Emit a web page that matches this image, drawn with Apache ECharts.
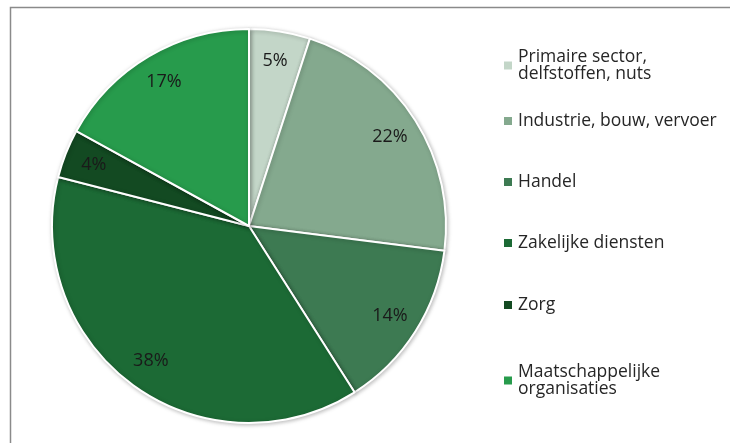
<!DOCTYPE html>
<html><head><meta charset="utf-8">
<script src="https://cdn.jsdelivr.net/npm/echarts@6/dist/echarts.min.js"></script>
<style>html,body{margin:0;padding:0;background:#fff}#c{width:730px;height:443px}</style>
</head><body><div id="c"></div>
<script>
const categories = ['Primaire sector,\ndelfstoffen, nuts','Industrie, bouw, vervoer','Handel','Zakelijke diensten','Zorg','Maatschappelijke\norganisaties'];
const values = [5,22,14,38,4,17];
const colors = ['#c3d6c8','#84a98e','#3d7a52','#1c6a35','#134a22','#279b4c'];
const legendTops = [48,112,173,234,296,363];

const data = categories.map((n,i)=>({name:n,value:values[i],itemStyle:{color:colors[i]}}));
const FONT = '"Open Sans", sans-serif';
const chart = echarts.init(document.getElementById('c'));
chart.setOption({
  animation:false,
  graphic:[{type:'rect',left:8,top:5,shape:{width:800,height:600},style:{fill:'none',stroke:'#8a8a8a',lineWidth:1.5},silent:true,z:-10}],
  legend: categories.map((n,i)=>({
    data:[n], orient:'vertical', left:502, top:legendTops[i], padding:0, itemWidth:10, itemHeight:10, itemGap:0,
    icon:'rect', selectedMode:false,
    textStyle:{fontFamily:FONT,fontSize:17.5,color:'#262626',lineHeight:17,padding:[0,0,0,0]}
  })),
  series:[{
    type:'pie', center:[249,226], radius:[0,197], startAngle:90, clockwise:true,
    data:data, label:{show:false}, labelLine:{show:false},
    itemStyle:{borderColor:'#fff',borderWidth:2,shadowBlur:4,shadowColor:'rgba(0,0,0,0.25)',shadowOffsetX:1,shadowOffsetY:1},
    emphasis:{disabled:true}
  },{
    type:'pie', center:[249,226], radius:[138,190], startAngle:90, clockwise:true, silent:true,
    data:data.map(d=>({name:d.name,value:d.value})), legendHoverLink:false,
    itemStyle:{color:'rgba(0,0,0,0)'},
    label:{show:true,position:'inside',formatter:'{c}%',fontFamily:FONT,fontSize:18,color:'#1a1a1a'},
    labelLine:{show:false}, emphasis:{disabled:true}
  }]
});
</script></body></html>
